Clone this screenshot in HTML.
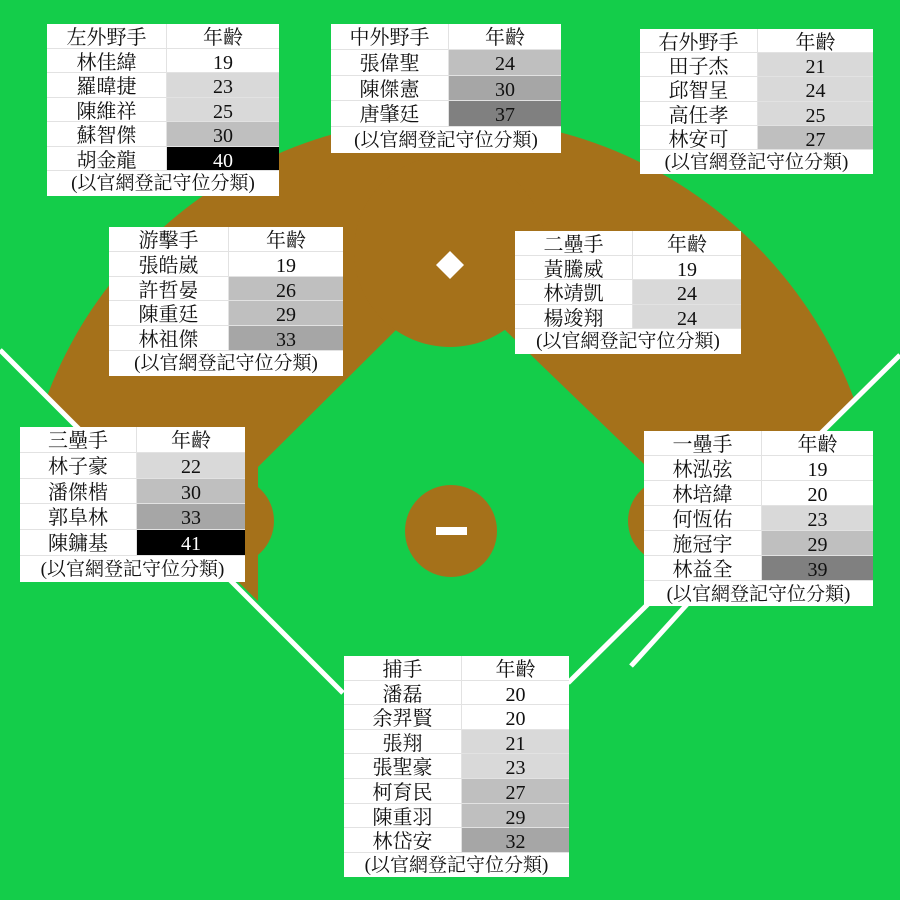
<!DOCTYPE html>
<html><head><meta charset="utf-8"><style>
html,body{margin:0;padding:0;width:900px;height:900px;overflow:hidden;background:#14cd4a}
svg{position:absolute;left:0;top:0}
.t{position:absolute;background:#fff;font-family:"Liberation Serif","Noto Serif CJK TC","Noto Serif CJK SC",serif;font-size:20px;color:#111;box-sizing:border-box;overflow:hidden}
.r{display:flex;box-sizing:border-box;border-bottom:1px solid #e2e2e2;height:var(--h);line-height:var(--h)}
.r>div{text-align:center;box-sizing:border-box;height:100%;padding-top:2px}
.n{width:var(--w);border-right:1px solid #e2e2e2}
.a{flex:1}
.f{text-align:center;height:var(--h);line-height:var(--h);white-space:nowrap;font-size:19px;padding-top:1px;box-sizing:border-box}
.g1{background:#d9d9d9}.g2{background:#bfbfbf}.g3{background:#a6a6a6}.g4{background:#808080}.bk{background:#000;color:#fff}
</style></head><body>
<svg width="900" height="900" viewBox="0 0 900 900">
<defs><clipPath id="v"><polygon points="0,0 900,0 900,355 455,793 0,350"/></clipPath></defs>
<circle cx="450" cy="549" r="431" fill="#a5711a" clip-path="url(#v)"/>
<polygon points="396,330 505,330 645,465 645,606 455,793 258,608 258,467" fill="#14cd4a"/>
<circle cx="450" cy="251" r="96" fill="#a5711a"/>
<circle cx="230" cy="521" r="44" fill="#a5711a" clip-path="url(#v)"/>
<circle cx="671" cy="521" r="43" fill="#a5711a" clip-path="url(#v)"/>
<ellipse cx="451" cy="531" rx="46" ry="46" fill="#a5711a"/>
<rect x="436" y="527" width="31" height="8" fill="#fff"/>
<polygon points="450,251 464,265 450,279 436,265" fill="#fff"/>
<line x1="0" y1="350" x2="343" y2="693" stroke="#fff" stroke-width="5"/>
<line x1="900" y1="355" x2="568" y2="683" stroke="#fff" stroke-width="5"/>
<line x1="631" y1="666" x2="690" y2="601" stroke="#fff" stroke-width="5"/>
</svg>

<div class="t" style="left:47px;top:24px;width:232px;--w:120px;--h:24.5px">
<div class="r"><div class="n">左外野手</div><div class="a">年齡</div></div>
<div class="r"><div class="n">林佳緯</div><div class="a">19</div></div>
<div class="r"><div class="n">羅暐捷</div><div class="a g1">23</div></div>
<div class="r"><div class="n">陳維祥</div><div class="a g1">25</div></div>
<div class="r"><div class="n">蘇智傑</div><div class="a g2">30</div></div>
<div class="r"><div class="n">胡金龍</div><div class="a bk">40</div></div>
<div class="f">(以官網登記守位分類)</div></div>

<div class="t" style="left:331px;top:24px;width:230px;--w:118px;--h:25.8px">
<div class="r"><div class="n">中外野手</div><div class="a">年齡</div></div>
<div class="r"><div class="n">張偉聖</div><div class="a g2">24</div></div>
<div class="r"><div class="n">陳傑憲</div><div class="a g3">30</div></div>
<div class="r"><div class="n">唐肇廷</div><div class="a g4">37</div></div>
<div class="f">(以官網登記守位分類)</div></div>

<div class="t" style="left:640px;top:29px;width:233px;--w:118px;--h:24.2px">
<div class="r"><div class="n">右外野手</div><div class="a">年齡</div></div>
<div class="r"><div class="n">田子杰</div><div class="a g1">21</div></div>
<div class="r"><div class="n">邱智呈</div><div class="a g1">24</div></div>
<div class="r"><div class="n">高任孝</div><div class="a g1">25</div></div>
<div class="r"><div class="n">林安可</div><div class="a g2">27</div></div>
<div class="f">(以官網登記守位分類)</div></div>

<div class="t" style="left:109px;top:227px;width:234px;--w:120px;--h:24.8px">
<div class="r"><div class="n">游擊手</div><div class="a">年齡</div></div>
<div class="r"><div class="n">張皓崴</div><div class="a">19</div></div>
<div class="r"><div class="n">許哲晏</div><div class="a g2">26</div></div>
<div class="r"><div class="n">陳重廷</div><div class="a g2">29</div></div>
<div class="r"><div class="n">林祖傑</div><div class="a g3">33</div></div>
<div class="f">(以官網登記守位分類)</div></div>

<div class="t" style="left:515px;top:231px;width:226px;--w:118px;--h:24.5px">
<div class="r"><div class="n">二壘手</div><div class="a">年齡</div></div>
<div class="r"><div class="n">黃騰威</div><div class="a">19</div></div>
<div class="r"><div class="n">林靖凱</div><div class="a g1">24</div></div>
<div class="r"><div class="n">楊竣翔</div><div class="a g1">24</div></div>
<div class="f">(以官網登記守位分類)</div></div>

<div class="t" style="left:20px;top:427px;width:225px;--w:117px;--h:25.8px">
<div class="r"><div class="n">三壘手</div><div class="a">年齡</div></div>
<div class="r"><div class="n">林子豪</div><div class="a g1">22</div></div>
<div class="r"><div class="n">潘傑楷</div><div class="a g2">30</div></div>
<div class="r"><div class="n">郭阜林</div><div class="a g3">33</div></div>
<div class="r"><div class="n">陳鏞基</div><div class="a bk">41</div></div>
<div class="f">(以官網登記守位分類)</div></div>

<div class="t" style="left:644px;top:431px;width:229px;--w:118px;--h:25px">
<div class="r"><div class="n">一壘手</div><div class="a">年齡</div></div>
<div class="r"><div class="n">林泓弦</div><div class="a">19</div></div>
<div class="r"><div class="n">林培緯</div><div class="a">20</div></div>
<div class="r"><div class="n">何恆佑</div><div class="a g1">23</div></div>
<div class="r"><div class="n">施冠宇</div><div class="a g2">29</div></div>
<div class="r"><div class="n">林益全</div><div class="a g4">39</div></div>
<div class="f">(以官網登記守位分類)</div></div>

<div class="t" style="left:344px;top:656px;width:225px;--w:118px;--h:24.6px">
<div class="r"><div class="n">捕手</div><div class="a">年齡</div></div>
<div class="r"><div class="n">潘磊</div><div class="a">20</div></div>
<div class="r"><div class="n">余羿賢</div><div class="a">20</div></div>
<div class="r"><div class="n">張翔</div><div class="a g1">21</div></div>
<div class="r"><div class="n">張聖豪</div><div class="a g1">23</div></div>
<div class="r"><div class="n">柯育民</div><div class="a g2">27</div></div>
<div class="r"><div class="n">陳重羽</div><div class="a g2">29</div></div>
<div class="r"><div class="n">林岱安</div><div class="a g3">32</div></div>
<div class="f">(以官網登記守位分類)</div></div>
</body></html>
